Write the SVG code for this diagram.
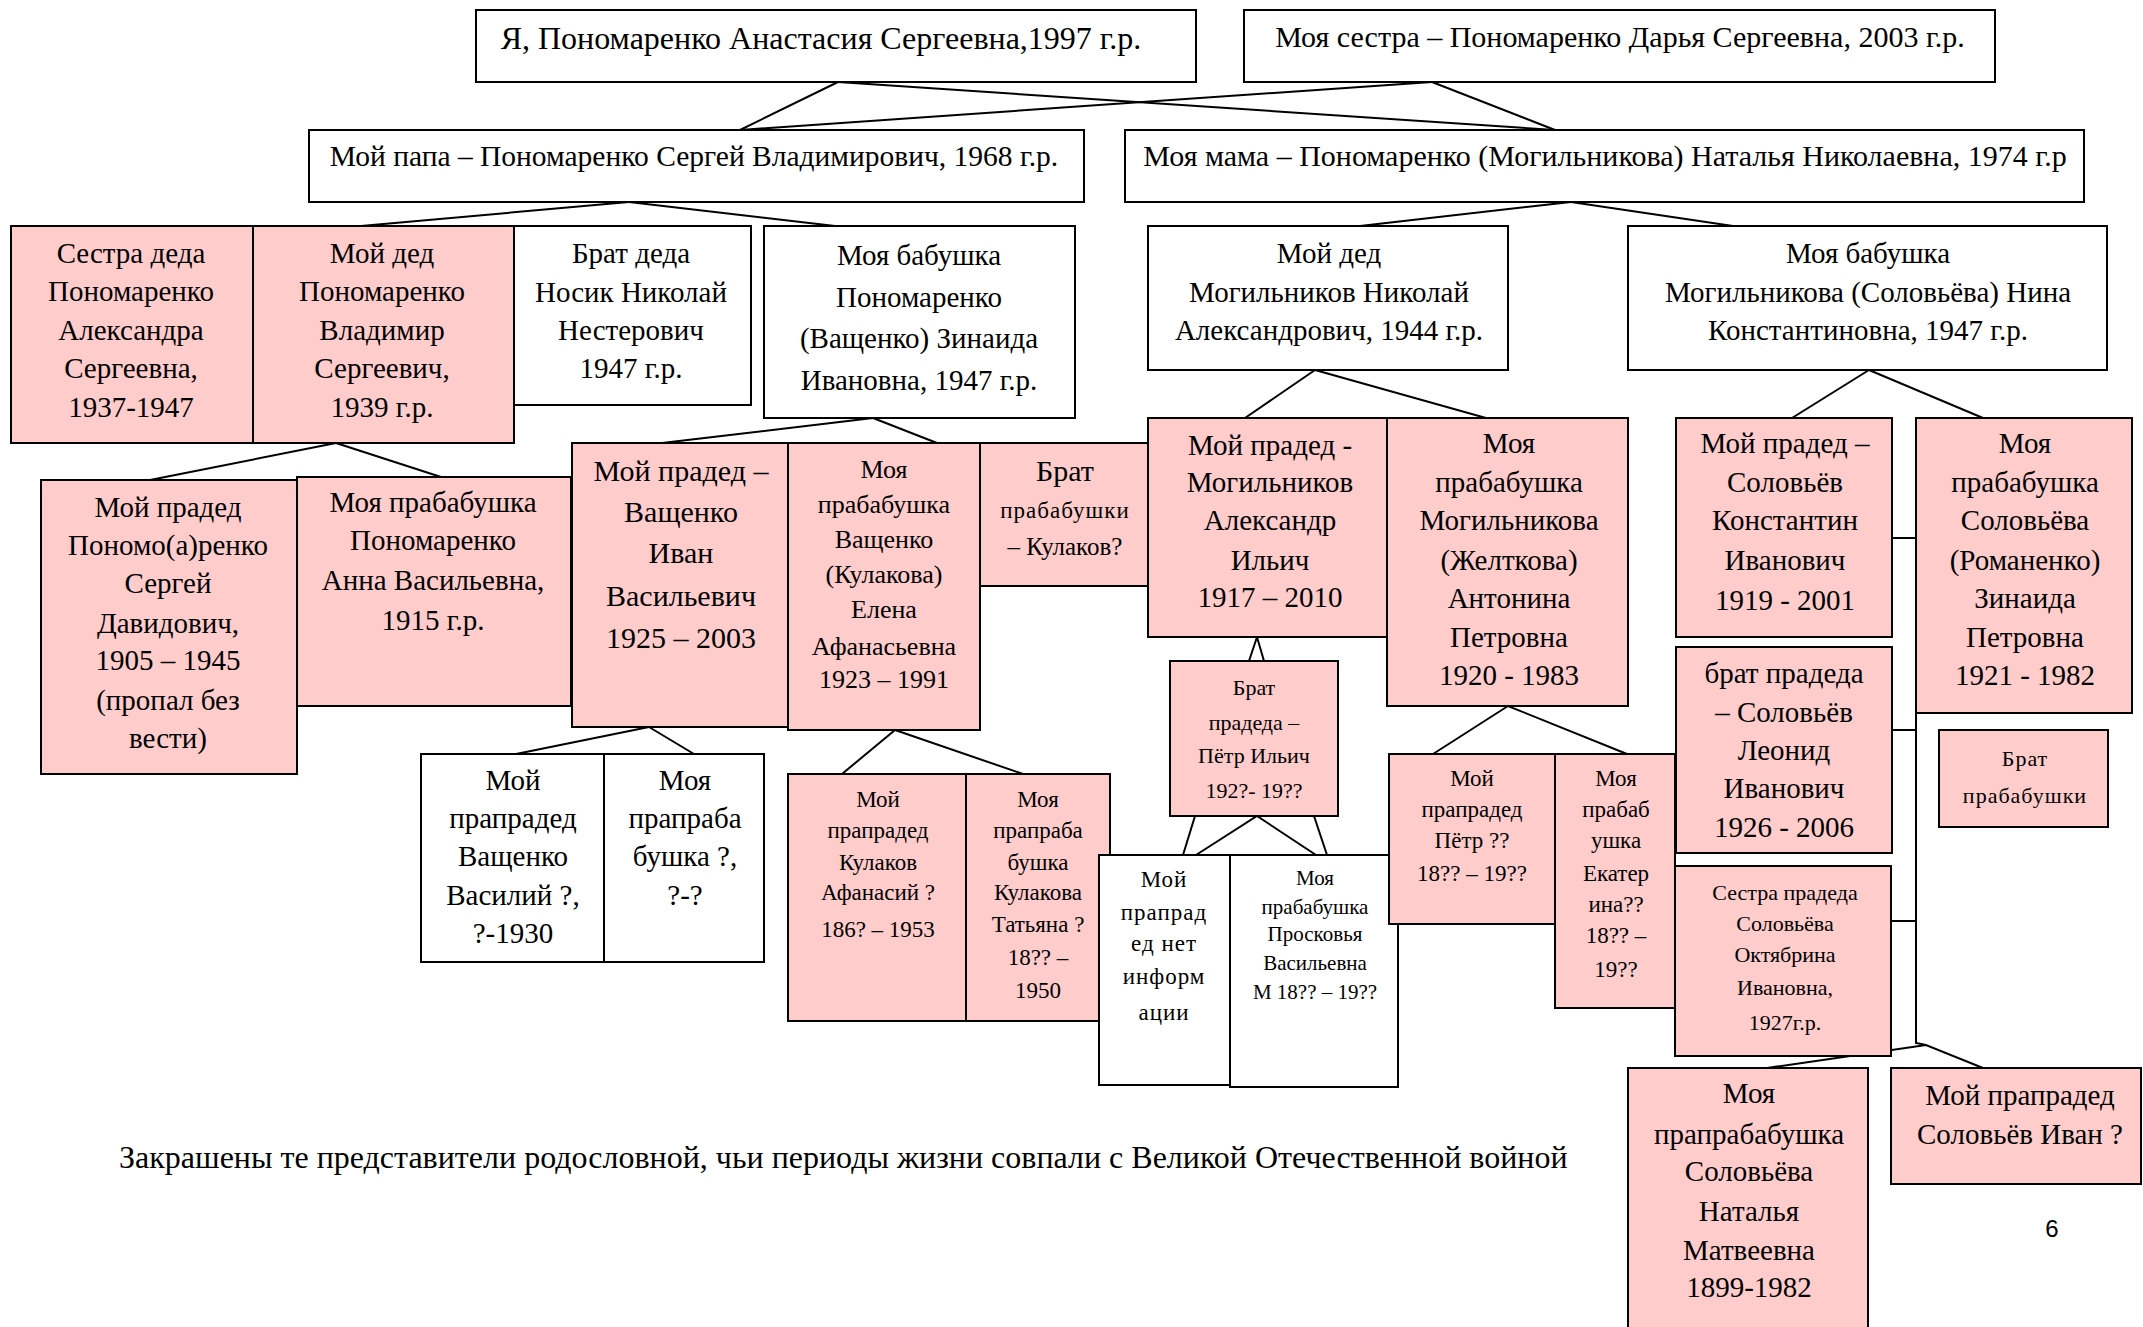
<svg xmlns="http://www.w3.org/2000/svg" width="2143" height="1327" viewBox="0 0 2143 1327">
<style>
.w{fill:#fff;stroke:#000;stroke-width:2}
.p{fill:#FFCCCC;stroke:#000;stroke-width:2}
text{font-family:"Liberation Serif","Times New Roman",serif;fill:#000;text-anchor:middle}
.f32{font-size:32px}.f30{font-size:30px}.f295{font-size:29.5px}.f29{font-size:29px}.f26{font-size:26px}.f25{font-size:25px}.f23{font-size:23px}.f22{font-size:22px}.f21{font-size:21px}
.ls{letter-spacing:1px}
#conn line,#conn polyline{stroke:#000;stroke-width:2;fill:none}
</style>
<rect width="2143" height="1327" fill="#fff"/>
<g id="conn">
<line x1="838" y1="82" x2="740" y2="130"/>
<line x1="838" y1="82" x2="1555" y2="130"/>
<line x1="1432" y1="82" x2="740" y2="130"/>
<line x1="1432" y1="82" x2="1555" y2="130"/>
<line x1="629" y1="202" x2="361" y2="226"/>
<line x1="629" y1="202" x2="835" y2="226"/>
<line x1="1571" y1="202" x2="1360" y2="226"/>
<line x1="1571" y1="202" x2="1733" y2="226"/>
<line x1="336" y1="443" x2="150" y2="480"/>
<line x1="336" y1="443" x2="441" y2="477"/>
<line x1="873" y1="418" x2="662" y2="443"/>
<line x1="873" y1="418" x2="937" y2="443"/>
<line x1="1315" y1="370" x2="1245" y2="418"/>
<line x1="1315" y1="370" x2="1486" y2="418"/>
<line x1="1869" y1="370" x2="1792" y2="418"/>
<line x1="1869" y1="370" x2="1983" y2="418"/>
<line x1="649" y1="727" x2="516" y2="754"/>
<line x1="649" y1="727" x2="694" y2="754"/>
<line x1="895" y1="730" x2="842" y2="774"/>
<line x1="895" y1="730" x2="1023" y2="774"/>
<polyline points="1249,661 1257,637 1264,661"/>
<polyline points="1196,855 1257,816 1316,855"/>
<line x1="1195" y1="816" x2="1183" y2="855"/>
<line x1="1314" y1="816" x2="1327" y2="855"/>
<polyline points="1433,754 1508,706 1627,754"/>
<line x1="1892" y1="538" x2="1916" y2="538"/>
<line x1="1892" y1="730" x2="1916" y2="730"/>
<line x1="1891" y1="921" x2="1916" y2="921"/>
<polyline points="1916,713 1916,1043 1926,1045"/>
<polyline points="1767,1068 1926,1045 1983,1068"/>
</g>
<g id="me"><rect class="w" x="476" y="10" width="720" height="72"/><text class="f32" x="821" y="49">Я, Пономаренко Анастасия Сергеевна,1997 г.р.</text></g>
<g id="sister"><rect class="w" x="1244" y="10" width="751" height="72"/><text class="f30" x="1620" y="47">Моя сестра – Пономаренко Дарья Сергеевна, 2003 г.р.</text></g>
<g id="papa"><rect class="w" x="309" y="130" width="775" height="72"/><text class="f295" x="694" y="166">Мой папа – Пономаренко Сергей Владимирович, 1968 г.р.</text></g>
<g id="mama"><rect class="w" x="1125" y="130" width="959" height="72"/><text class="f30" x="1605" y="166">Моя мама – Пономаренко (Могильникова) Наталья Николаевна, 1974 г.р</text></g>
<g id="sestra-deda"><rect class="p" x="11" y="226" width="242" height="217"/><text class="f29"><tspan x="131" y="263">Сестра деда</tspan><tspan x="131" y="301">Пономаренко</tspan><tspan x="131" y="340">Александра</tspan><tspan x="131" y="378">Сергеевна,</tspan><tspan x="131" y="417">1937-1947</tspan></text></g>
<g id="ded-ponomarenko"><rect class="p" x="253" y="226" width="261" height="217"/><text class="f29"><tspan x="382" y="263">Мой дед</tspan><tspan x="382" y="301">Пономаренко</tspan><tspan x="382" y="340">Владимир</tspan><tspan x="382" y="378">Сергеевич,</tspan><tspan x="382" y="417">1939 г.р.</tspan></text></g>
<g id="brat-deda"><rect class="w" x="514" y="226" width="237" height="179"/><text class="f29"><tspan x="631" y="263">Брат деда</tspan><tspan x="631" y="302">Носик Николай</tspan><tspan x="631" y="340">Нестерович</tspan><tspan x="631" y="378">1947 г.р.</tspan></text></g>
<g id="babushka-ponomarenko"><rect class="w" x="764" y="226" width="311" height="192"/><text class="f29"><tspan x="919" y="265">Моя бабушка</tspan><tspan x="919" y="307">Пономаренко</tspan><tspan x="919" y="348">(Ващенко) Зинаида</tspan><tspan x="919" y="390">Ивановна, 1947 г.р.</tspan></text></g>
<g id="ded-mogilnikov"><rect class="w" x="1148" y="226" width="360" height="144"/><text class="f29"><tspan x="1329" y="263">Мой дед</tspan><tspan x="1329" y="302">Могильников Николай</tspan><tspan x="1329" y="340">Александрович, 1944 г.р.</tspan></text></g>
<g id="babushka-mogilnikova"><rect class="w" x="1628" y="226" width="479" height="144"/><text class="f29"><tspan x="1868" y="263">Моя бабушка</tspan><tspan x="1868" y="302">Могильникова (Соловьёва) Нина</tspan><tspan x="1868" y="340">Константиновна,  1947 г.р.</tspan></text></g>
<g id="praded-ponomarenko"><rect class="p" x="41" y="480" width="256" height="294"/><text class="f29"><tspan x="168" y="517">Мой прадед</tspan><tspan x="168" y="555">Пономо(а)ренко</tspan><tspan x="168" y="593">Сергей</tspan><tspan x="168" y="633">Давидович,</tspan><tspan x="168" y="670">1905 – 1945</tspan><tspan x="168" y="710">(пропал без</tspan><tspan x="168" y="748">вести)</tspan></text></g>
<g id="prababushka-ponomarenko"><rect class="p" x="297" y="477" width="274" height="229"/><text class="f29"><tspan x="433" y="512">Моя прабабушка</tspan><tspan x="433" y="550">Пономаренко</tspan><tspan x="433" y="590">Анна Васильевна,</tspan><tspan x="433" y="630">1915 г.р.</tspan></text></g>
<g id="praded-vashchenko"><rect class="p" x="572" y="443" width="216" height="284"/><text class="f30"><tspan x="681" y="481">Мой прадед –</tspan><tspan x="681" y="522">Ващенко</tspan><tspan x="681" y="563">Иван</tspan><tspan x="681" y="606">Васильевич</tspan><tspan x="681" y="648">1925 – 2003</tspan></text></g>
<g id="prababushka-vashchenko"><rect class="p" x="788" y="443" width="192" height="287"/><text class="f26"><tspan x="884" y="478">Моя</tspan><tspan x="884" y="513">прабабушка</tspan><tspan x="884" y="548">Ващенко</tspan><tspan x="884" y="583">(Кулакова)</tspan><tspan x="884" y="618">Елена</tspan><tspan x="884" y="655">Афанасьевна</tspan><tspan x="884" y="688">1923 – 1991</tspan></text></g>
<g id="brat-prababushki-kulakov"><rect class="p" x="980" y="443" width="168" height="143"/><text><tspan class="f30" x="1065" y="481">Брат</tspan><tspan class="f23 ls" x="1065" y="518">прабабушки</tspan><tspan class="f25" x="1065" y="555">– Кулаков?</tspan></text></g>
<g id="praded-mogilnikov"><rect class="p" x="1148" y="418" width="239" height="219"/><text class="f29"><tspan x="1270" y="455">Мой прадед -</tspan><tspan x="1270" y="492">Могильников</tspan><tspan x="1270" y="530">Александр</tspan><tspan x="1270" y="570">Ильич</tspan><tspan x="1270" y="607">1917 – 2010</tspan></text></g>
<g id="prababushka-mogilnikova"><rect class="p" x="1387" y="418" width="241" height="288"/><text class="f29"><tspan x="1509" y="453">Моя</tspan><tspan x="1509" y="492">прабабушка</tspan><tspan x="1509" y="530">Могильникова</tspan><tspan x="1509" y="570">(Желткова)</tspan><tspan x="1509" y="608">Антонина</tspan><tspan x="1509" y="647">Петровна</tspan><tspan x="1509" y="685">1920 - 1983</tspan></text></g>
<g id="praded-solovyov"><rect class="p" x="1676" y="418" width="216" height="219"/><text class="f29"><tspan x="1785" y="453">Мой прадед –</tspan><tspan x="1785" y="492">Соловьёв</tspan><tspan x="1785" y="530">Константин</tspan><tspan x="1785" y="570">Иванович</tspan><tspan x="1785" y="610">1919 - 2001</tspan></text></g>
<g id="prababushka-solovyova"><rect class="p" x="1916" y="418" width="216" height="295"/><text class="f29"><tspan x="2025" y="453">Моя</tspan><tspan x="2025" y="492">прабабушка</tspan><tspan x="2025" y="530">Соловьёва</tspan><tspan x="2025" y="570">(Романенко)</tspan><tspan x="2025" y="608">Зинаида</tspan><tspan x="2025" y="647">Петровна</tspan><tspan x="2025" y="685">1921 - 1982</tspan></text></g>
<g id="brat-pradeda-petr"><rect class="p" x="1170" y="661" width="168" height="155"/><text class="f22"><tspan x="1254" y="695">Брат</tspan><tspan x="1254" y="730">прадеда –</tspan><tspan x="1254" y="763">Пётр Ильич</tspan><tspan x="1254" y="798">192?- 19??</tspan></text></g>
<g id="brat-pradeda-leonid"><rect class="p" x="1676" y="647" width="216" height="206"/><text class="f29"><tspan x="1784" y="683">брат прадеда</tspan><tspan x="1784" y="722">– Соловьёв</tspan><tspan x="1784" y="760">Леонид</tspan><tspan x="1784" y="798">Иванович</tspan><tspan x="1784" y="837">1926 - 2006</tspan></text></g>
<g id="brat-prababushki"><rect class="p" x="1939" y="730" width="169" height="97"/><text class="f22 ls"><tspan x="2025" y="766">Брат</tspan><tspan x="2025" y="803">прабабушки</tspan></text></g>
<g id="prapraded-vashchenko"><rect class="w" x="421" y="754" width="183" height="208"/><text class="f29"><tspan x="513" y="790">Мой</tspan><tspan x="513" y="828">прапрадед</tspan><tspan x="513" y="866">Ващенко</tspan><tspan x="513" y="905">Василий ?,</tspan><tspan x="513" y="943">?-1930</tspan></text></g>
<g id="praprababushka-vashchenko"><rect class="w" x="604" y="754" width="160" height="208"/><text class="f29"><tspan x="685" y="790">Моя</tspan><tspan x="685" y="828">прапраба</tspan><tspan x="685" y="866">бушка ?,</tspan><tspan x="685" y="905">?-?</tspan></text></g>
<g id="prapraded-kulakov"><rect class="p" x="788" y="774" width="178" height="247"/><text class="f23"><tspan x="878" y="807">Мой</tspan><tspan x="878" y="838">прапрадед</tspan><tspan x="878" y="870">Кулаков</tspan><tspan x="878" y="900">Афанасий ?</tspan><tspan x="878" y="937">186? – 1953</tspan></text></g>
<g id="praprababushka-kulakova"><rect class="p" x="966" y="774" width="144" height="247"/><text class="f23"><tspan x="1038" y="807">Моя</tspan><tspan x="1038" y="838">прапраба</tspan><tspan x="1038" y="870">бушка</tspan><tspan x="1038" y="900">Кулакова</tspan><tspan x="1038" y="932">Татьяна ?</tspan><tspan x="1038" y="965">18?? –</tspan><tspan x="1038" y="998">1950</tspan></text></g>
<g id="prapraded-net-info"><rect class="w" x="1099" y="855" width="131" height="230"/><text class="f23 ls"><tspan x="1164" y="887">Мой</tspan><tspan x="1164" y="920">прапрад</tspan><tspan x="1164" y="951">ед нет</tspan><tspan x="1164" y="984">информ</tspan><tspan x="1164" y="1020">ации</tspan></text></g>
<g id="prababushka-proskovya"><rect class="w" x="1230" y="855" width="168" height="232"/><text class="f21"><tspan x="1315" y="885">Моя</tspan><tspan x="1315" y="914">прабабушка</tspan><tspan x="1315" y="941">Просковья</tspan><tspan x="1315" y="970">Васильевна</tspan><tspan x="1315" y="999">М 18?? – 19??</tspan></text></g>
<g id="prapraded-petr"><rect class="p" x="1389" y="754" width="166" height="170"/><text class="f23"><tspan x="1472" y="786">Мой</tspan><tspan x="1472" y="817">прапрадед</tspan><tspan x="1472" y="848">Пётр ??</tspan><tspan x="1472" y="881">18?? – 19??</tspan></text></g>
<g id="prababushka-ekaterina"><rect class="p" x="1555" y="754" width="120" height="254"/><text class="f23"><tspan x="1616" y="786">Моя</tspan><tspan x="1616" y="817">прабаб</tspan><tspan x="1616" y="848">ушка</tspan><tspan x="1616" y="881">Екатер</tspan><tspan x="1616" y="912">ина??</tspan><tspan x="1616" y="943">18?? –</tspan><tspan x="1616" y="977">19??</tspan></text></g>
<g id="sestra-pradeda"><rect class="p" x="1675" y="866" width="216" height="190"/><text class="f22"><tspan x="1785" y="900">Сестра прадеда</tspan><tspan x="1785" y="931">Соловьёва</tspan><tspan x="1785" y="962">Октябрина</tspan><tspan x="1785" y="995">Ивановна,</tspan><tspan x="1785" y="1030">1927г.р.</tspan></text></g>
<g id="praprababushka-solovyova"><rect class="p" x="1628" y="1068" width="240" height="270"/><text class="f29"><tspan x="1749" y="1103">Моя</tspan><tspan x="1749" y="1144">прапрабабушка</tspan><tspan x="1749" y="1181">Соловьёва</tspan><tspan x="1749" y="1221">Наталья</tspan><tspan x="1749" y="1260">Матвеевна</tspan><tspan x="1749" y="1297">1899-1982</tspan></text></g>
<g id="prapraded-solovyov"><rect class="p" x="1891" y="1068" width="250" height="116"/><text class="f29"><tspan x="2020" y="1105">Мой прапрадед</tspan><tspan x="2020" y="1144">Соловьёв Иван ?</tspan></text></g>
<text class="f32" x="119" y="1168" style="text-anchor:start">Закрашены те представители родословной, чьи периоды жизни совпали с Великой Отечественной войной</text>
<text x="2052" y="1237" style="font-family:'Liberation Sans',Arial,sans-serif;font-size:24px">6</text>
</svg>
